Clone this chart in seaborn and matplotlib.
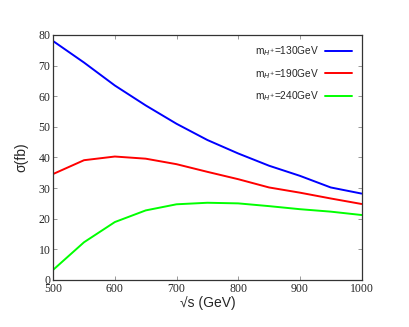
import numpy as np
import pandas as pd
import matplotlib
matplotlib.use("Agg")
import matplotlib.pyplot as plt
import seaborn as sns

sqrt_s = [500, 550, 600, 650, 700, 750, 800, 850, 900, 950, 1000]
sigma_130 = [78.0, 71.0, 63.5, 57.0, 51.0, 45.7, 41.3, 37.3, 34.0, 30.2, 28.2]
sigma_190 = [34.6, 39.1, 40.3, 39.6, 37.8, 35.3, 32.9, 30.2, 28.5, 26.6, 24.8]
sigma_240 = [3.3, 12.3, 18.9, 22.7, 24.7, 25.2, 25.0, 24.1, 23.1, 22.3, 21.2]
labels = [r"m$_{H^{+}}$=130GeV", r"m$_{H^{+}}$=190GeV", r"m$_{H^{+}}$=240GeV"]
colors = ["#0000ff", "#ff0000", "#00ff00"]
xticks = [500, 600, 700, 800, 900, 1000]
yticks = [0, 10, 20, 30, 40, 50, 60, 70, 80]

rows = []
for lab, ser in zip(labels, [sigma_130, sigma_190, sigma_240]):
    for x, y in zip(sqrt_s, ser):
        rows.append({"sqrt_s": x, "sigma": y, "mass": lab})
df = pd.DataFrame(rows)

sns.set_style("ticks")
plt.rcParams["mathtext.fontset"] = "dejavusans"

fig = plt.figure(figsize=(4.09, 3.27), dpi=100)
ax = fig.add_axes([0.130, 0.144, 0.754, 0.749])
sns.lineplot(data=df, x="sqrt_s", y="sigma", hue="mass", palette=colors,
             hue_order=labels, linewidth=1.4, ax=ax)

ax.set_xlim(500, 1000)
ax.set_ylim(0, 80)
ax.set_xticks(xticks)
ax.set_yticks(yticks)
serif = "Liberation Serif"
ax.set_xticklabels([str(t) for t in xticks], family=serif, fontsize=8.5)
ax.set_yticklabels([str(t) for t in yticks], family=serif, fontsize=8.5)
ax.tick_params(direction="in", top=True, right=True, length=3, width=0.6,
               color="#888888", pad=2)
for s in ax.spines.values():
    s.set_visible(True)
    s.set_linewidth(0.9)
    s.set_color("#333333")

ax.set_xlabel("√s (GeV)", family="Liberation Sans", fontsize=10, labelpad=1)
ax.set_ylabel("σ(fb)", family="Liberation Sans", fontsize=10, labelpad=7)

leg = ax.legend(loc="upper right", bbox_to_anchor=(0.969, 0.962), frameon=False,
                markerfirst=False, fontsize=7.3, handlelength=2.7,
                labelspacing=0.85, handletextpad=0.5, borderaxespad=0,
                borderpad=0)
for t in leg.get_texts():
    t.set_family("Liberation Sans")

fig.savefig("out.png", dpi=100)
